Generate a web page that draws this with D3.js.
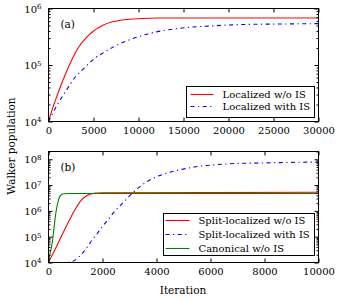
<!DOCTYPE html>
<html>
<head>
<meta charset="utf-8">
<script src="https://cdn.jsdelivr.net/npm/d3@7"></script>
<style>
  body { margin: 0; background: #fff; }
</style>
</head>
<body>
<div id="container"></div>
<script>
// panel (a) data
const itA_red = [0, 500, 1000, 1500, 2000, 2500, 3000, 3500, 4000, 4500, 5000, 5500, 6000, 7000, 8000, 9000, 10000, 12000, 30000];
const popA_red = [1.0e4, 1.8e4, 3.0e4, 4.9e4, 7.6e4, 1.15e5, 1.66e5, 2.24e5, 2.8e5, 3.4e5, 4.0e5, 4.5e5, 5.0e5, 5.75e5, 6.2e5, 6.45e5, 6.6e5, 6.8e5, 6.8e5];
const itA_blue = [0, 250, 1000, 2000, 3000, 4000, 5000, 6000, 7000, 8000, 9000, 10000, 11000, 12500, 14000, 16000, 18000, 20000, 22500, 25000, 30000];
const popA_blue = [1.0e4, 1.2e4, 2.0e4, 3.6e4, 6.2e4, 8.9e4, 1.26e5, 1.62e5, 2.0e5, 2.4e5, 2.8e5, 3.16e5, 3.55e5, 4.0e5, 4.35e5, 4.7e5, 4.9e5, 5.1e5, 5.25e5, 5.3e5, 5.4e5];

// panel (b) data
const itB_red = [0, 200, 400, 600, 800, 1000, 1200, 1400, 1600, 1800, 2000, 10000];
const popB_red = [1.0e4, 2.6e4, 7.1e4, 1.9e5, 5.0e5, 1.2e6, 2.5e6, 3.8e6, 4.6e6, 4.9e6, 5.0e6, 5.3e6];
const itB_blue = [0, 400, 800, 1000, 1200, 1400, 1600, 1800, 2000, 2200, 2400, 2600, 2800, 3000, 3200, 3400, 3600, 3800, 4000, 4400, 4800, 5200, 5600, 6000, 6500, 7000, 8000, 9000, 10000];
const popB_blue = [1.0e4, 9.5e3, 1.07e4, 1.26e4, 2.0e4, 3.5e4, 7.1e4, 1.3e5, 2.5e5, 4.5e5, 8.3e5, 1.4e6, 2.3e6, 3.8e6, 6.0e6, 8.9e6, 1.26e7, 1.66e7, 2.1e7, 2.95e7, 3.8e7, 4.6e7, 5.4e7, 5.9e7, 6.5e7, 6.9e7, 7.2e7, 7.6e7, 7.8e7];
const itB_green = [0, 50, 100, 150, 200, 250, 300, 350, 400, 450, 500, 600, 800, 10000];
const popB_green = [1.0e4, 2.0e4, 3.5e4, 7.1e4, 2.0e5, 5.6e5, 1.26e6, 2.2e6, 3.3e6, 4.0e6, 4.4e6, 4.6e6, 4.7e6, 4.7e6];

// ticks and labels
const xTicksA = [0, 5000, 10000, 15000, 20000, 25000, 30000];
const xTicksB = [0, 2000, 4000, 6000, 8000, 10000];
const yExpA = [4, 5, 6];
const yExpB = [4, 5, 6, 7, 8];
const legendA = ["Localized w/o IS", "Localized with IS"];
const legendB = ["Split-localized w/o IS", "Split-localized with IS", "Canonical w/o IS"];

const RED = "#ff0000", BLUE = "#0000ff", GREEN = "#008000";
const DASHDOT = "4,3.5,1.2,3.5";
const FONT = "DejaVu Serif, Liberation Serif, Times New Roman, Tinos, Noto Serif, serif";

const w = 340, h = 300;
const svg = d3.select("#container").append("svg")
  .attr("width", w).attr("height", h)
  .attr("font-family", FONT);

function panel(opt) {
  const x = d3.scaleLinear().domain(opt.xDomain).range([opt.left, opt.right]);
  const y = d3.scaleLog().domain(opt.yDomain).range([opt.bottom, opt.top]);
  const g = svg.append("g");

  const clipId = "clip" + opt.name;
  g.append("clipPath").attr("id", clipId).append("rect")
    .attr("x", opt.left).attr("y", opt.top)
    .attr("width", opt.right - opt.left).attr("height", opt.bottom - opt.top);

  // series
  const line = d3.line().x(d => x(d[0])).y(d => y(d[1])).curve(d3.curveMonotoneX);
  opt.series.forEach(s => {
    g.append("path")
      .attr("clip-path", `url(#${clipId})`)
      .attr("d", line(d3.zip(s.it, s.pop)))
      .attr("fill", "none")
      .attr("stroke", s.color)
      .attr("stroke-width", 1.1)
      .attr("stroke-dasharray", s.dash || null);
  });

  // x axes (inner ticks both sides)
  const xb = g.append("g").attr("transform", `translate(0,${opt.bottom})`)
    .call(d3.axisBottom(x).tickValues(opt.xTicks).tickSizeInner(-4).tickSizeOuter(0).tickPadding(5).tickFormat(d3.format("d")));
  xb.select(".domain").remove();
  xb.attr("font-family", null);
  xb.selectAll("text").attr("font-size", 10);
  const xt = g.append("g").attr("transform", `translate(0,${opt.top})`)
    .call(d3.axisTop(x).tickValues(opt.xTicks).tickSizeInner(-4).tickSizeOuter(0).tickFormat(""));
  xt.select(".domain").remove();

  // y axes, major and minor ticks
  const major = opt.yExp.map(e => Math.pow(10, e));
  const minor = [];
  for (let e = opt.yExp[0]; e <= opt.yExp[opt.yExp.length - 1]; e++) {
    for (let m = 2; m <= 9; m++) {
      const v = m * Math.pow(10, e);
      if (v <= opt.yDomain[1]) minor.push(v);
    }
  }
  [[d3.axisLeft, opt.left], [d3.axisRight, opt.right]].forEach(([ax, pos], i) => {
    const ga = g.append("g").attr("transform", `translate(${pos},0)`)
      .call(ax(y).tickValues(major).tickSizeInner(-4).tickSizeOuter(0).tickPadding(7).tickFormat(""));
    ga.select(".domain").remove();
    ga.attr("font-family", null);
    const gm = g.append("g").attr("transform", `translate(${pos},0)`)
      .call(ax(y).tickValues(minor).tickSizeInner(-2).tickSizeOuter(0).tickFormat(""));
    gm.select(".domain").remove();
    if (i === 0) {
      ga.selectAll(".tick text").each(function(d) {
        const t = d3.select(this).attr("text-anchor", "end").attr("dy", "0.35em");
        t.append("tspan").text("10").attr("font-size", 10);
        t.append("tspan").text(Math.round(Math.log10(d))).attr("dy", "-0.45em").attr("font-size", 7);
      });
    }
  });

  // frame
  g.append("rect")
    .attr("x", opt.left).attr("y", opt.top)
    .attr("width", opt.right - opt.left).attr("height", opt.bottom - opt.top)
    .attr("fill", "none").attr("stroke", "#000").attr("stroke-width", 1);

  // panel label
  g.append("text").attr("x", opt.left + 12).attr("y", opt.top + 19)
    .attr("font-size", 10.5).text(opt.label);

  // legend
  const L = opt.legend;
  const lg = g.append("g");
  lg.append("rect").attr("x", L.x).attr("y", L.y).attr("width", L.w).attr("height", L.h)
    .attr("fill", "#fff").attr("stroke", "#000").attr("stroke-width", 1);
  opt.series.forEach((s, i) => {
    const cy = L.y + L.first + i * L.step;
    lg.append("line").attr("x1", L.x + L.l1).attr("x2", L.x + L.l2).attr("y1", cy).attr("y2", cy)
      .attr("stroke", s.color).attr("stroke-width", 1.1).attr("stroke-dasharray", s.dash || null);
    lg.append("text").attr("x", L.x + L.tx).attr("y", cy).attr("dy", "0.35em")
      .attr("font-size", 10).text(opt.names[i]);
  });
}

panel({
  name: "a", label: "(a)",
  left: 48.5, right: 318.5, top: 8.5, bottom: 121.5,
  xDomain: [0, 30000], yDomain: [1e4, 1e6],
  xTicks: xTicksA, yExp: yExpA,
  series: [
    { it: itA_red, pop: popA_red, color: RED },
    { it: itA_blue, pop: popA_blue, color: BLUE, dash: DASHDOT }
  ],
  names: legendA,
  legend: { x: 186.5, y: 86.5, w: 128, h: 31, first: 8, step: 12, l1: 4, l2: 27, tx: 36 }
});

panel({
  name: "b", label: "(b)",
  left: 48.5, right: 318.5, top: 151.5, bottom: 262.5,
  xDomain: [0, 10000], yDomain: [1e4, 2e8],
  xTicks: xTicksB, yExp: yExpB,
  series: [
    { it: itB_red, pop: popB_red, color: RED },
    { it: itB_blue, pop: popB_blue, color: BLUE, dash: DASHDOT },
    { it: itB_green, pop: popB_green, color: GREEN }
  ],
  names: legendB,
  legend: { x: 163.5, y: 213.5, w: 151, h: 42, first: 7, step: 14, l1: 2, l2: 26, tx: 35 }
});

// shared axis titles
svg.append("text").attr("x", 183).attr("y", 294).attr("text-anchor", "middle")
  .attr("font-size", 10.5).text("Iteration");
svg.append("text").attr("transform", "translate(15,146) rotate(-90)").attr("text-anchor", "middle")
  .attr("font-size", 10.5).text("Walker population");
</script>
</body>
</html>
